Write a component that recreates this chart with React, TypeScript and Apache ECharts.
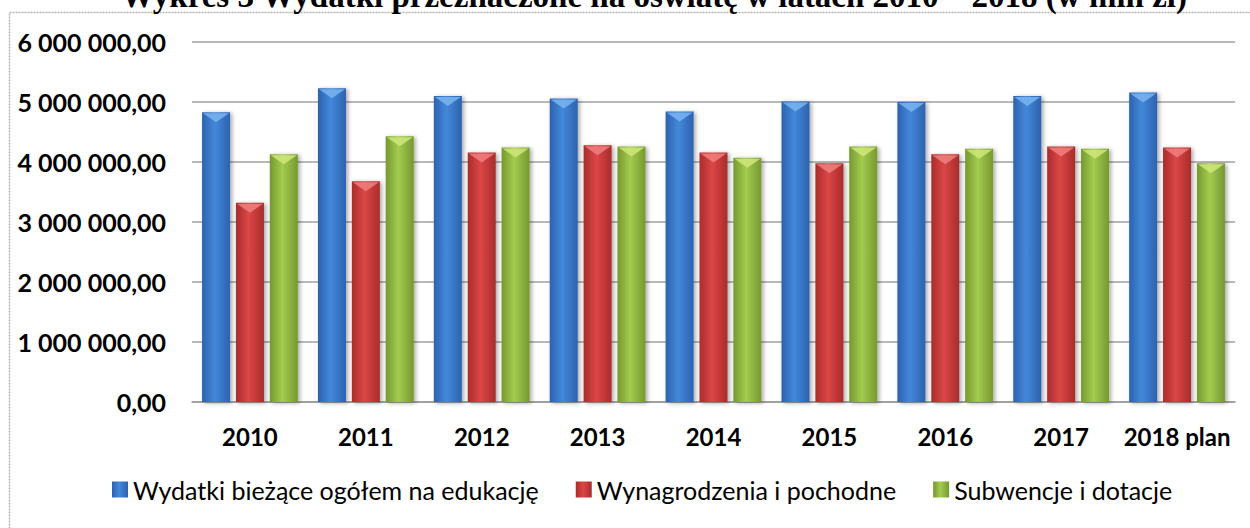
import React, { useEffect, useRef } from "react";
import * as echarts from "echarts";

const categories = ["2010", "2011", "2012", "2013", "2014", "2015", "2016", "2017", "2018 plan"];
const seriesNames = [
  "Wydatki bieżące ogółem na edukację",
  "Wynagrodzenia i pochodne",
  "Subwencje i dotacje",
];
const wydatki = [4830000, 5230000, 5100000, 5060000, 4840000, 5010000, 5000000, 5100000, 5160000];
const wynagrodzenia = [3320000, 3680000, 4160000, 4280000, 4160000, 3980000, 4130000, 4260000, 4240000];
const subwencje = [4130000, 4430000, 4240000, 4260000, 4070000, 4260000, 4220000, 4220000, 3980000];
const titleText = "Wykres 3 Wydatki przeznaczone na oświatę w latach 2010 – 2018 (w mln zł)";

const fmt = (v: number) => {
  const [i, d] = v.toFixed(2).split(".");
  return i.replace(/\B(?=(\d{3})+(?!\d))/g, " ") + "," + d;
};

const grad = (edge: string, mid: string) =>
  new echarts.graphic.LinearGradient(0, 0, 1, 0, [
    { offset: 0, color: edge },
    { offset: 0.45, color: mid },
    { offset: 1, color: edge },
  ]);

const BAR_W = 28;
const BAR_GAP = 0.21;

export default function App() {
  const ref = useRef<HTMLDivElement>(null);
  useEffect(() => {
    if (!ref.current) return;
    const chart = echarts.init(ref.current, null, { renderer: "svg" });
    const colors = [
      grad("#2d62ad", "#4388db"),
      grad("#a82c2c", "#dc4646"),
      grad("#76982f", "#a3cc4f"),
    ];
    const highlights = ["#7db4f0", "#f08080", "#cfe87a"];
    const data = [wydatki, wynagrodzenia, subwencje];
    const capData: number[][] = [];
    data.forEach((arr, s) => arr.forEach((v, i) => capData.push([i, v, s])));
    const step = BAR_W * (1 + BAR_GAP);

    chart.setOption({
      animation: false,
      backgroundColor: "#ffffff",
      graphic: [
        {
          type: "rect",
          shape: { x: 9.5, y: 12.5, width: 1260, height: 600 },
          style: { fill: "none", stroke: "#b5b5b5", lineWidth: 1.5, lineDash: [2, 1] },
          silent: true,
        },
        {
          type: "text",
          x: 654,
          y: 12,
          style: {
            text: titleText,
            fontFamily: "Liberation Serif",
            fontWeight: "bold",
            fontSize: 33,
            fill: "#000",
            align: "center",
            verticalAlign: "bottom",
          },
        },
      ],
      grid: { left: 192, right: 15, top: 42, bottom: 126, containLabel: false },
      legend: {
        data: seriesNames,
        bottom: 21,
        left: 107,
        icon: "rect",
        itemWidth: 16,
        itemHeight: 16,
        itemGap: 37,
        textStyle: { fontFamily: "Lato", fontSize: 25, color: "#000" },
      },
      xAxis: {
        type: "category",
        data: categories,
        axisLine: { lineStyle: { color: "#9a9a9a", width: 1.5 } },
        axisTick: { show: false },
        axisLabel: {
          interval: 0,
          fontFamily: "Lato",
          fontWeight: "bold",
          fontSize: 24,
          color: "#000",
          margin: 22,
        },
      },
      yAxis: {
        type: "value",
        min: 0,
        max: 6000000,
        interval: 1000000,
        axisLine: { show: false },
        axisTick: { show: false },
        splitLine: { lineStyle: { color: "#a0a0a0", width: 1.5 } },
        axisLabel: {
          formatter: (v: number) => fmt(v),
          fontFamily: "Lato",
          fontWeight: "bold",
          fontSize: 25,
          color: "#000",
          margin: 26,
        },
      },
      series: [
        ...seriesNames.map((name, i) => ({
          name,
          type: "bar",
          data: data[i],
          barWidth: BAR_W,
          barGap: BAR_GAP * 100 + "%",
          itemStyle: {
            color: colors[i],
            shadowBlur: 4,
            shadowColor: "rgba(0,0,0,0.35)",
            shadowOffsetX: 2,
            shadowOffsetY: 1,
          },
        })),
        {
          type: "custom",
          name: "caps",
          silent: true,
          z: 5,
          data: capData,
          encode: { x: 0, y: 1 },
          renderItem: (params: any, api: any) => {
            const cat = api.value(0);
            const val = api.value(1);
            const s = api.value(2);
            const pt = api.coord([cat, val]);
            const cx = pt[0] + (s - 1) * step;
            const top = pt[1];
            const l = cx - BAR_W / 2 + 1;
            const r = cx + BAR_W / 2 - 1;
            return {
              type: "polygon",
              shape: {
                points: [
                  [l, top + 1],
                  [r, top + 1],
                  [cx, top + 10],
                ],
              },
              style: { fill: highlights[s], opacity: 0.85 },
            };
          },
        },
      ],
    });
    return () => chart.dispose();
  }, []);
  return (
    <div
      ref={ref}
      style={{ position: "absolute", left: 0, top: 0, width: 1250, height: 528 }}
    />
  );
}
